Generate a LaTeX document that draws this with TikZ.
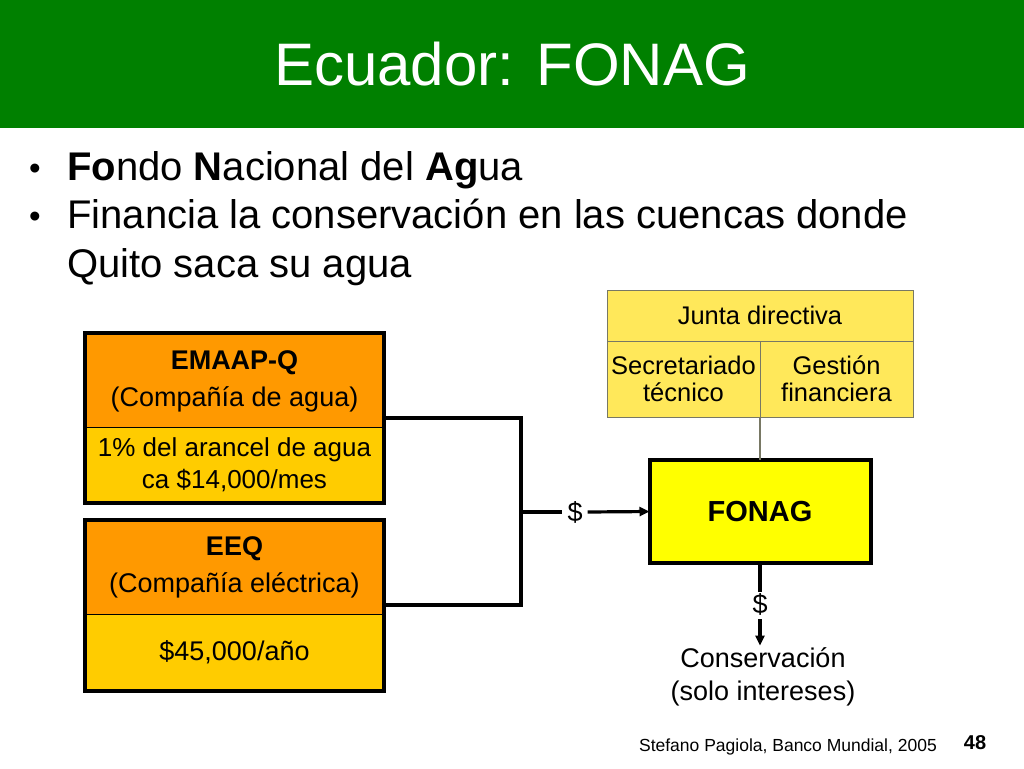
\documentclass[tikz,border=0pt]{standalone}
\usepackage{fontspec}
\setmainfont{Liberation Sans}
\usetikzlibrary{arrows.meta}
\definecolor{hdrgreen}{RGB}{0,128,0}
\definecolor{orangebox}{RGB}{255,153,0}
\definecolor{goldbox}{RGB}{255,204,0}
\definecolor{juntayel}{RGB}{255,232,90}
\definecolor{fonagyel}{RGB}{255,255,0}
\definecolor{juntaedge}{RGB}{120,120,100}
\begin{document}
\begin{tikzpicture}[x=1pt,y=-1pt,
  part/.style={draw=black, line width=1pt, inner sep=0pt, outer sep=0pt, align=center, minimum width=299pt, font=\fontsize{27}{37}\selectfont},
  frame/.style={draw=black, line width=4pt},
  cell/.style={draw=juntaedge, fill=juntayel, line width=1pt, inner sep=0pt, outer sep=0pt, align=center, font=\fontsize{25.5}{27}\selectfont},
  link/.style={line width=3.5pt},
  arr/.style={line width=3.2pt, -{Triangle[length=10pt,width=9pt]}},
  lbl/.style={font=\fontsize{27}{31}\selectfont, inner sep=1pt},
  bullet/.style={anchor=base west, inner sep=0pt, font=\fontsize{40}{48}\selectfont},
  dot/.style={anchor=base west, inner sep=0pt, font=\fontsize{33}{34}\selectfont}]
\useasboundingbox (0,0) rectangle (1024,768);
\fill[white] (0,0) rectangle (1024,768);
% header
\fill[hdrgreen] (0,0) rectangle (1024,128);
\node[anchor=base, text=white, inner sep=0pt, font=\fontsize{60}{60}\selectfont] (title) at (512,85) {Ecuador: FONAG};
% bullets
\node[dot] (b1dot) at (29,179) {•};
\node[bullet] (b1) at (67,180) {\textbf{Fo}ndo \textbf{N}acional del \textbf{Ag}ua};
\node[dot] (b2dot) at (29,227) {•};
\node[bullet] (b2) at (67,228) {Financia la conservación en las cuencas donde};
\node[bullet] (b3) at (67,277) {Quito saca su agua};
% EMAAP-Q
\node[part, fill=orangebox, minimum height=94pt] (emaapTop) at (234.5,381) {\textbf{EMAAP-Q}\\(Compañía de agua)};
\node[part, fill=goldbox, minimum height=76pt, font=\fontsize{26}{32}\selectfont] (emaapBot) at (234.5,465) {1\% del arancel de agua\\ca \$14,000/mes};
\draw[frame] ([yshift=1pt]emaapTop.north west) rectangle (emaapBot.south east);
% EEQ
\node[part, fill=orangebox, minimum height=94pt] (eeqTop) at (234.5,567) {\textbf{EEQ}\\(Compañía eléctrica)};
\node[part, fill=goldbox, minimum height=77pt] (eeqBot) at (234.5,652.5) {\$45,000/año};
\draw[frame] (eeqTop.north west) rectangle (eeqBot.south east);
% Junta
\node[cell, minimum width=306pt, minimum height=51pt] (junta) at (760,315.5) {Junta directiva};
\node[cell, minimum width=153pt, minimum height=76pt] (sec) at (683.5,379) {Secretariado\\técnico};
\node[cell, minimum width=153pt, minimum height=76pt] (gest) at (836.5,379) {Gestión\\financiera};
% FONAG
\node[draw=black, line width=4pt, fill=fonagyel, minimum width=221pt, minimum height=103pt, inner sep=0pt, outer sep=0pt, font=\fontsize{29}{30}\selectfont\bfseries] (fonag) at (760,511.5) {FONAG};
\draw[draw=juntaedge, line width=1.3pt] (sec.south east) -- (fonag.north);
% connectors
\coordinate (j) at (521,512);
\draw[link] ([yshift=9pt]emaapBot.north east) -| (j) |- ([yshift=9pt]eeqBot.north east);
\node[lbl] (d1) at (575,512) {\$};
\draw[link] (j) -- ([xshift=-4pt]d1.west);
\draw[arr] ([xshift=4pt]d1.east) -- (fonag.west);
\node[lbl] (d2) at (760,604) {\$};
\draw[link] (fonag.south) -- (d2.north);
\node[lbl, align=center, font=\fontsize{27}{33}\selectfont] (cons) at (763,677) {Conservación\\(solo intereses)};
\draw[arr] ([yshift=-3pt]d2.south) -- ([yshift=1pt]cons.north -| d2.south);
% footer
\node[anchor=base east, inner sep=0pt, font=\fontsize{17.5}{20}\selectfont] (foot) at (937,751) {Stefano Pagiola, Banco Mundial, 2005};
\node[anchor=base, inner sep=0pt, font=\fontsize{20}{22}\selectfont\bfseries] (page) at (975,749) {48};
\end{tikzpicture}
\end{document}
